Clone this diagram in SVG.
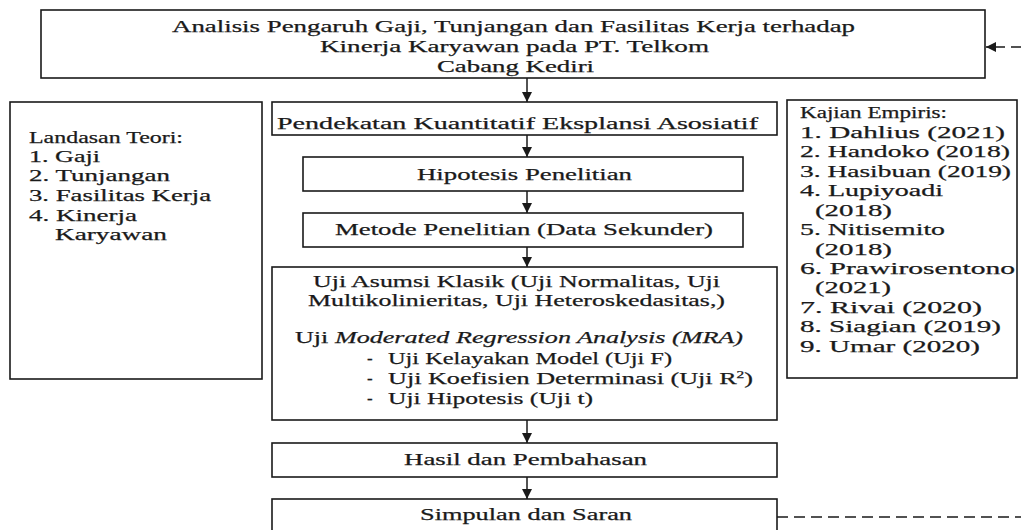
<svg xmlns="http://www.w3.org/2000/svg" width="1021" height="530" viewBox="0 0 1021 530" font-family="'Liberation Serif', 'DejaVu Serif', serif" font-size="17">
<defs>
<style>
.box{fill:#fff;stroke:#1a1a1a;stroke-width:1.6}
text{font-family:'Liberation Serif','DejaVu Serif',serif;font-size:17px;fill:#1a1a1a;stroke:#1a1a1a;stroke-width:0.25}
.it{font-style:italic}
.conn{fill:none;stroke:#1a1a1a;stroke-width:1.5}
.dash{stroke-dasharray:11 6}
</style>
<marker id="ah" viewBox="0 0 10 10" refX="10" refY="5" markerWidth="11" markerHeight="10" markerUnits="userSpaceOnUse" orient="auto">
<path d="M0,0 L10,5 L0,10 z" fill="#1a1a1a"/>
</marker>
</defs>
<rect width="1021" height="530" fill="#fff"/>

<g id="judul">
<rect class="box" x="41" y="10" width="944" height="68"/>
<text x="172" y="32" textLength="683" lengthAdjust="spacingAndGlyphs">Analisis Pengaruh Gaji, Tunjangan dan Fasilitas Kerja terhadap</text>
<text x="320" y="52" textLength="389" lengthAdjust="spacingAndGlyphs">Kinerja Karyawan pada PT. Telkom</text>
<text x="437" y="72" textLength="157" lengthAdjust="spacingAndGlyphs">Cabang Kediri</text>
</g>

<g id="landasan-teori">
<rect class="box" x="10" y="102" width="252" height="277"/>
<text x="29" y="143" textLength="154" lengthAdjust="spacingAndGlyphs">Landasan Teori:</text>
<text x="29" y="162" textLength="71" lengthAdjust="spacingAndGlyphs">1. Gaji</text>
<text x="29" y="181" textLength="141" lengthAdjust="spacingAndGlyphs">2. Tunjangan</text>
<text x="29" y="201" textLength="182" lengthAdjust="spacingAndGlyphs">3. Fasilitas Kerja</text>
<text x="29" y="221" textLength="108" lengthAdjust="spacingAndGlyphs">4. Kinerja</text>
<text x="55" y="240" textLength="112" lengthAdjust="spacingAndGlyphs">Karyawan</text>
</g>

<g id="pendekatan">
<rect class="box" x="272" y="102" width="505" height="33"/>
<text x="277" y="129" textLength="481" lengthAdjust="spacingAndGlyphs">Pendekatan Kuantitatif Eksplansi Asosiatif</text>
</g>

<g id="kajian-empiris">
<rect class="box" x="787" y="100" width="230" height="278"/>
<text x="800" y="118" textLength="147" lengthAdjust="spacingAndGlyphs">Kajian Empiris:</text>
<text x="800" y="138" textLength="205" lengthAdjust="spacingAndGlyphs">1. Dahlius (2021)</text>
<text x="800" y="157" textLength="210" lengthAdjust="spacingAndGlyphs">2. Handoko (2018)</text>
<text x="800" y="177" textLength="211" lengthAdjust="spacingAndGlyphs">3. Hasibuan (2019)</text>
<text x="800" y="196" textLength="143" lengthAdjust="spacingAndGlyphs">4. Lupiyoadi</text>
<text x="815" y="216" textLength="77" lengthAdjust="spacingAndGlyphs">(2018)</text>
<text x="800" y="235" textLength="145" lengthAdjust="spacingAndGlyphs">5. Nitisemito</text>
<text x="815" y="255" textLength="77" lengthAdjust="spacingAndGlyphs">(2018)</text>
<text x="800" y="274" textLength="215" lengthAdjust="spacingAndGlyphs">6. Prawirosentono</text>
<text x="815" y="293" textLength="76" lengthAdjust="spacingAndGlyphs">(2021)</text>
<text x="800" y="313" textLength="182" lengthAdjust="spacingAndGlyphs">7. Rivai (2020)</text>
<text x="800" y="332" textLength="201" lengthAdjust="spacingAndGlyphs">8. Siagian (2019)</text>
<text x="800" y="352" textLength="180" lengthAdjust="spacingAndGlyphs">9. Umar (2020)</text>
</g>

<g id="hipotesis">
<rect class="box" x="303" y="157" width="440" height="34"/>
<text x="417" y="180" textLength="215" lengthAdjust="spacingAndGlyphs">Hipotesis Penelitian</text>
</g>

<g id="metode">
<rect class="box" x="303" y="213" width="440" height="34"/>
<text x="335" y="235" textLength="378" lengthAdjust="spacingAndGlyphs">Metode Penelitian (Data Sekunder)</text>
</g>

<g id="uji">
<rect class="box" x="272" y="267" width="505" height="153"/>
<text x="313" y="287" textLength="407" lengthAdjust="spacingAndGlyphs">Uji Asumsi Klasik (Uji Normalitas, Uji</text>
<text x="308" y="306" textLength="417" lengthAdjust="spacingAndGlyphs">Multikolinieritas, Uji Heteroskedasitas,)</text>
<text x="295" y="343" textLength="448" lengthAdjust="spacingAndGlyphs">Uji <tspan class="it">Moderated Regression Analysis (MRA)</tspan></text>
<text x="367" y="364">-</text>
<text x="388" y="364" textLength="284" lengthAdjust="spacingAndGlyphs">Uji Kelayakan Model (Uji F)</text>
<text x="367" y="384">-</text>
<text x="388" y="384" textLength="365" lengthAdjust="spacingAndGlyphs">Uji Koefisien Determinasi (Uji R<tspan font-size="10" dy="-6">2</tspan><tspan dy="6">)</tspan></text>
<text x="367" y="404">-</text>
<text x="388" y="404" textLength="205" lengthAdjust="spacingAndGlyphs">Uji Hipotesis (Uji t)</text>
</g>

<g id="hasil">
<rect class="box" x="272" y="443" width="505" height="34"/>
<text x="404" y="465" textLength="243" lengthAdjust="spacingAndGlyphs">Hasil dan Pembahasan</text>
</g>

<g id="simpulan">
<rect class="box" x="272" y="499" width="505" height="36"/>
<text x="420" y="520" textLength="212" lengthAdjust="spacingAndGlyphs">Simpulan dan Saran</text>
</g>

<g id="connectors">
<line class="conn" x1="527" y1="78" x2="527" y2="102" marker-end="url(#ah)"/>
<line class="conn" x1="527" y1="135" x2="527" y2="157" marker-end="url(#ah)"/>
<line class="conn" x1="527" y1="191" x2="527" y2="213" marker-end="url(#ah)"/>
<line class="conn" x1="527" y1="247" x2="527" y2="267" marker-end="url(#ah)"/>
<line class="conn" x1="527" y1="420" x2="527" y2="443" marker-end="url(#ah)"/>
<line class="conn" x1="527" y1="477" x2="527" y2="499" marker-end="url(#ah)"/>
<path class="conn dash" d="M777,517 H1030 V47 H986" marker-end="url(#ah)"/>
</g>
</svg>
